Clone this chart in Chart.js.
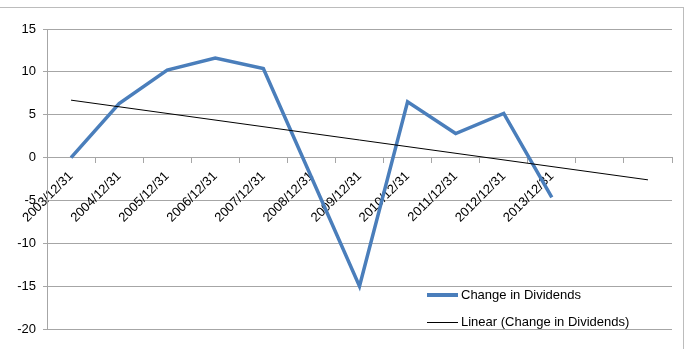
<!DOCTYPE html>
<html>
<head>
<meta charset="utf-8">
<script src="https://cdn.jsdelivr.net/npm/chart.js@4.4.1/dist/chart.umd.min.js"></script>
<style>
  html, body { margin: 0; padding: 0; background: #fff; overflow: hidden; }
  #wrap { position: relative; width: 686px; height: 349px; }
  #frame { position: absolute; left: -1px; top: 7px; width: 685px; height: 350px; border: 1px solid #bcbcbc; box-sizing: border-box; }
  canvas { position: absolute; left: 0; top: 0; }
  .leg { position: absolute; left: 427px; font: 13px "Liberation Sans", Arial, sans-serif; color: #000; white-space: nowrap; }
  .leg span.sw { position: absolute; left: 0; width: 31px; }
  .leg span.tx { position: absolute; left: 34px; top: -8px; }
</style>
</head>
<body>
<div id="wrap">
  <div id="frame"></div>
  <canvas id="chart" width="686" height="349"></canvas>
  <div class="leg" style="top:295px"><span class="sw" style="top:-2px;height:4px;background:#4a7ebb"></span><span class="tx">Change in Dividends</span></div>
  <div class="leg" style="top:322px"><span class="sw" style="top:0;height:1px;background:#000"></span><span class="tx">Linear (Change in Dividends)</span></div>
</div>
<script>
// categorieen en waarden
const categories = ["2003/12/31", "2004/12/31", "2005/12/31", "2006/12/31", "2007/12/31", "2008/12/31",
  "2009/12/31", "2010/12/31", "2011/12/31", "2012/12/31", "2013/12/31", "", ""];
const dividendChange = [0, 6.3, 10.2, 11.6, 10.4, -2.3, -15, 6.5, 2.8, 5.15, -4.65, null, null];
// trendlijn: begin- en eindpunt (twee perioden vooruit)
const trendValues = [6.7, null, null, null, null, null, null, null, null, null, null, null, -2.6];
const yMin = -20;
const yMax = 15;
const yStep = 5;

Chart.defaults.font.family = "'Liberation Sans', Arial, sans-serif";
Chart.defaults.font.size = 13;
Chart.defaults.color = "#000";

const gridColor = "#a6a6a6";

const ctx = document.getElementById("chart").getContext("2d");
new Chart(ctx, {
  type: "line",
  data: {
    labels: categories,
    datasets: [
      {
        label: "Change in Dividends",
        data: dividendChange,
        borderColor: "#4a7ebb",
        borderWidth: 3.5,
        pointRadius: 0,
        tension: 0,
        borderJoinStyle: "miter",
        order: 2,
      },
      {
        label: "Linear (Change in Dividends)",
        data: trendValues,
        borderColor: "#000",
        borderWidth: 1,
        pointRadius: 0,
        spanGaps: true,
        order: 1,
      },
    ],
  },
  options: {
    responsive: false,
    animation: false,
    devicePixelRatio: 1,
    layout: { padding: { top: 29, bottom: 20, right: 14, left: 0 } },
    plugins: { legend: { display: false }, tooltip: { enabled: false } },
    scales: {
      x: {
        type: "category",
        position: { y: 0 },
        offset: true,
        grid: { offset: true, drawOnChartArea: false, drawTicks: true, tickLength: 5, color: gridColor },
        border: { display: true, color: gridColor },
        ticks: { autoSkip: false, minRotation: 45, maxRotation: 45, padding: 6, color: "#000" },
        afterFit: (scale) => { scale.height = 0; },
      },
      y: {
        min: yMin,
        max: yMax,
        grid: { color: gridColor, tickLength: 4 },
        border: { display: true, color: gridColor },
        ticks: { stepSize: yStep, padding: 7, color: "#000" },
        afterFit: (scale) => { scale.width = 47; },
      },
    },
  },
});
</script>
</body>
</html>
